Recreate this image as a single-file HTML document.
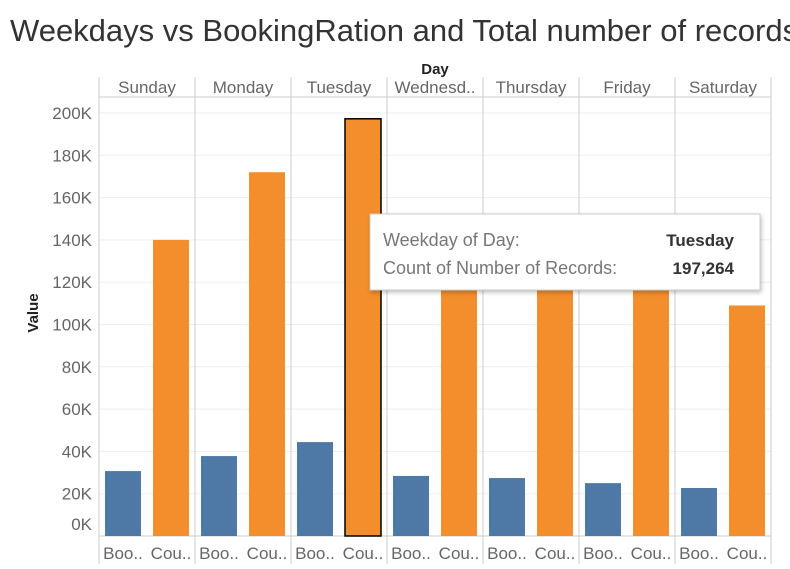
<!DOCTYPE html>
<html><head><meta charset="utf-8"><style>
body{margin:0;background:#fff;width:790px;height:564px;overflow:hidden;font-family:"Liberation Sans",sans-serif}
</style></head><body>
<svg id="c" width="790" height="564" xmlns="http://www.w3.org/2000/svg">
<text x="10" y="41" font-size="31" fill="#333">Weekdays vs BookingRation and Total number of records</text>
<text x="435" y="74" font-size="15" font-weight="bold" fill="#222" text-anchor="middle">Day</text>
<text x="38" y="313" font-size="15" font-weight="bold" fill="#222" text-anchor="middle" transform="rotate(-90 38 313)">Value</text>
<g id="g"></g>
</svg>
<script>
const days=["Sunday","Monday","Tuesday","Wednesd..","Thursday","Friday","Saturday"];
const booking=[30700,37800,44400,28400,27400,25000,22700];
const counts=[140000,172000,197264,130000,129000,131000,109000];
const ticks=[0,20000,40000,60000,80000,100000,120000,140000,160000,180000,200000];
const tickLabels=["0K","20K","40K","60K","80K","100K","120K","140K","160K","180K","200K"];
const NS="http://www.w3.org/2000/svg",g=document.getElementById('g');
const y0=536,pxPer=423/200000,left=99,pw=96;
const y=v=>y0-v*pxPer;
function el(t,a,txt){const e=document.createElementNS(NS,t);for(const k in a)e.setAttribute(k,a[k]);if(txt!=null)e.textContent=txt;g.appendChild(e);return e;}
ticks.forEach((t,i)=>{
 const l=el('line',{x1:left,x2:left+pw*7,y1:y(t),y2:y(t),stroke:'#eee'});
 
 
 const ty=i==0?y(t)-6:y(t)+6;
 const tx=el('text',{x:92,y:ty,'font-size':17,fill:'#666','text-anchor':'end'},tickLabels[i]);
 
 
});
el('line',{x1:left,x2:left+pw*7,y1:97,y2:97,stroke:'#ccc'});
el('line',{x1:left,x2:left+pw*7,y1:y0,y2:y0,stroke:'#ccc'});
days.forEach((d,i)=>{
 const x=left+i*pw;
 el('line',{x1:x,x2:x,y1:77,y2:564,stroke:'#ccc'});
 const h=el('text',{x:x+pw/2,y:93,'font-size':17,fill:'#666','text-anchor':'middle'},d);
 
 
 const b=el('rect',{x:x+6,y:y(booking[i]),width:36,height:booking[i]*pxPer,fill:'#4e79a7'});
 
 
 const o=el('rect',{x:x+54,y:y(counts[i]),width:36,height:counts[i]*pxPer,fill:'#f28e2b',stroke:i==2?'#000':'none','stroke-width':1.5});
 
 
 const l1=el('text',{x:x+24,y:559,'font-size':17,fill:'#666','text-anchor':'middle'},'Boo..');
 
 
 const l2=el('text',{x:x+72,y:559,'font-size':17,fill:'#666','text-anchor':'middle'},'Cou..');
 
 
});
el('line',{x1:left+pw*7,x2:left+pw*7,y1:77,y2:564,stroke:'#ccc'});
const tt=el('g',{});


const r=document.createElementNS(NS,'rect');
Object.entries({x:370,y:214,width:390,height:76,fill:'#fff',stroke:'#ccc',filter:'drop-shadow(1px 2px 2px rgba(0,0,0,0.25))'}).forEach(([k,v])=>r.setAttribute(k,v));
tt.appendChild(r);
[["Weekday of Day:","Tuesday",246],["Count of Number of Records:","197,264",274]].forEach(([a,b,yy])=>{
 const t1=document.createElementNS(NS,'text');t1.setAttribute('x',383);t1.setAttribute('y',yy);t1.setAttribute('font-size',18);t1.setAttribute('fill','#777');t1.textContent=a;tt.appendChild(t1);
 const t2=document.createElementNS(NS,'text');t2.setAttribute('x',734);t2.setAttribute('y',yy);t2.setAttribute('font-size',17);t2.setAttribute('font-weight','bold');t2.setAttribute('fill','#333');t2.setAttribute('text-anchor','end');t2.textContent=b;tt.appendChild(t2);
});
</script>
</body></html>
